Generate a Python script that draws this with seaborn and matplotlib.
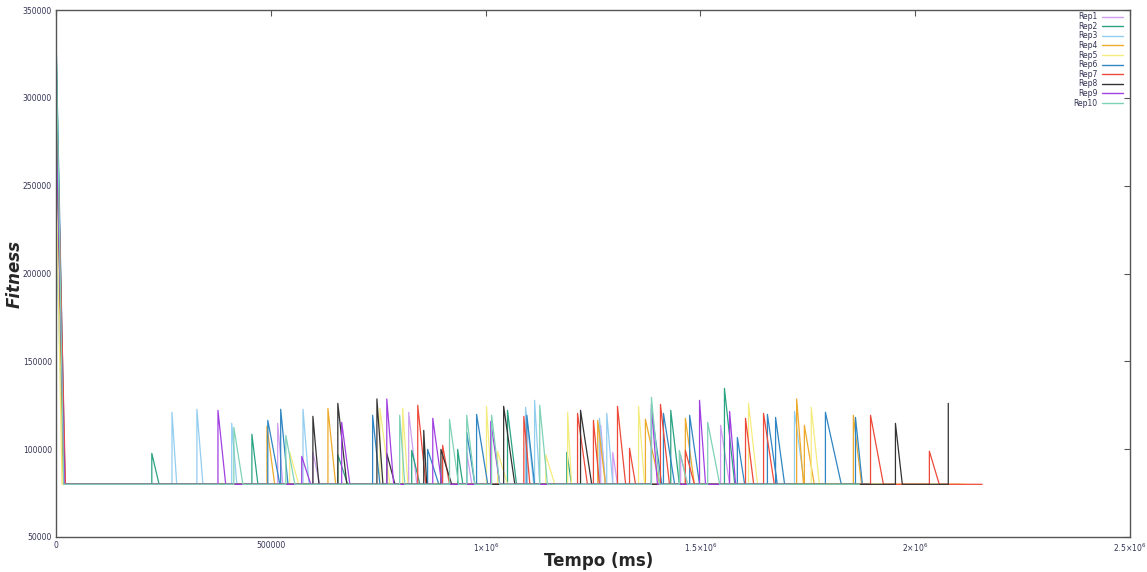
import matplotlib
matplotlib.use("Agg")
import matplotlib.pyplot as plt
from matplotlib.lines import Line2D
import seaborn as sns
import pandas as pd

# ---------------- data ----------------
BASE = 80000
series_names = ["Rep1", "Rep2", "Rep3", "Rep4", "Rep5", "Rep6", "Rep7", "Rep8", "Rep9", "Rep10"]
colors = ["#cf9ef0", "#2aa382", "#93cdf0", "#eeaa2a", "#f5ec80",
          "#2f86c2", "#ee4a3a", "#333333", "#a140e0", "#7fd2b6"]

# initial fitness at t=0 and time at which the baseline is reached
initial_fitness = [236000, 330000, 225000, 300000, 260000, 336000, 312000, 300000, 290000, 338000]
initial_drop_t = [19000, 20000, 18000, 17000, 14000, 21000, 22000, 19000, 20000, 18000]
final_t = [1661000, 1893000, 1866000, 2107000, 2119000, 1893000, 2156000, None, 1707000, 1870000]

rep1_start = [516000, 598000, 821000, 956000, 1268000, 1296000, 1454000, 1547000]
rep1_peak = [114700, 98200, 121000, 98200, 113600, 98200, 96800, 113600]
rep1_end = [528000, 614000, 840000, 968000, 1279000, 1307000, 1470000, 1568000]

rep2_start = [223000, 456000, 656000, 828000, 935000, 1051000, 1189000, 1431000, 1556000]
rep2_peak = [97600, 108500, 96800, 99300, 99900, 122100, 98200, 122100, 134600]
rep2_end = [240000, 470000, 679000, 847000, 947000, 1072000, 1200000, 1451000, 1580000]

rep3_start = [270000, 328000, 409000, 575000, 1093000, 1114000, 1265000, 1282000, 1719000]
rep3_peak = [121000, 122700, 114700, 122700, 123800, 127800, 117600, 120400, 121500]
rep3_end = [281000, 342000, 421000, 589000, 1112000, 1126000, 1279000, 1296000, 1742000]

rep4_start = [491000, 633000, 1261000, 1372000, 1465000, 1724000, 1742000, 1856000]
rep4_peak = [113000, 123200, 116400, 117000, 117600, 128600, 113600, 119300]
rep4_end = [509000, 651000, 1279000, 1405000, 1486000, 1740000, 1765000, 1875000]

rep5_start = [544000, 754000, 807000, 1002000, 1028000, 1140000, 1191000, 1356000, 1612000, 1758000]
rep5_peak = [98200, 123200, 123200, 124400, 98800, 96800, 121000, 124400, 126100, 123800]
rep5_end = [565000, 777000, 819000, 1014000, 1051000, 1161000, 1200000, 1370000, 1633000, 1777000]

rep6_start = [493000, 523000, 737000, 865000, 956000, 979000, 1096000, 1386000, 1414000,
              1475000, 1586000, 1656000, 1675000, 1791000, 1861000]
rep6_peak = [116400, 122700, 119300, 99900, 109600, 119800, 119300, 122700, 120400,
             119300, 106700, 119800, 118100, 121000, 118100]
rep6_end = [521000, 540000, 754000, 891000, 975000, 1005000, 1114000, 1410000, 1440000,
            1498000, 1603000, 1679000, 1696000, 1828000, 1877000]

rep7_start = [842000, 900000, 1089000, 1214000, 1251000, 1307000, 1335000, 1407000,
              1465000, 1605000, 1647000, 1896000, 2033000]
rep7_peak = [125000, 102200, 118700, 120400, 116400, 124400, 100500, 125500,
             99300, 117600, 120400, 119300, 98800]
rep7_end = [861000, 916000, 1103000, 1237000, 1265000, 1326000, 1349000, 1428000,
            1486000, 1624000, 1672000, 1926000, 2056000]

rep8_start = [598000, 656000, 747000, 770000, 856000, 896000, 1042000, 1221000, 1954000, 2077000]
rep8_peak = [118700, 126100, 128600, 97600, 110700, 99900, 124400, 122100, 114700, 126100]
rep8_end = [612000, 677000, 761000, 789000, 863000, 921000, 1068000, 1247000, 1970000, None]

rep9_start = [377000, 572000, 665000, 770000, 877000, 1012000, 1386000, 1498000, 1568000]
rep9_peak = [122100, 95900, 115300, 128600, 117600, 115800, 125500, 127800, 121500]
rep9_end = [395000, 593000, 684000, 786000, 898000, 1033000, 1400000, 1512000, 1582000]

rep10_start = [414000, 535000, 800000, 916000, 956000, 1014000, 1126000, 1386000, 1451000, 1517000]
rep10_peak = [112400, 107900, 119300, 117000, 119300, 119300, 125000, 129500, 99300, 115300]
rep10_end = [435000, 556000, 812000, 937000, 975000, 1033000, 1144000, 1405000, 1470000, 1545000]

spikes = [
    (rep1_start, rep1_peak, rep1_end), (rep2_start, rep2_peak, rep2_end),
    (rep3_start, rep3_peak, rep3_end), (rep4_start, rep4_peak, rep4_end),
    (rep5_start, rep5_peak, rep5_end), (rep6_start, rep6_peak, rep6_end),
    (rep7_start, rep7_peak, rep7_end), (rep8_start, rep8_peak, rep8_end),
    (rep9_start, rep9_peak, rep9_end), (rep10_start, rep10_peak, rep10_end),
]

x_ticks = [0, 500000, 1000000, 1500000, 2000000, 2500000]
x_tick_labels = ["0", "500000", r"$1{\times}10^{6}$", r"$1.5{\times}10^{6}$",
                 r"$2{\times}10^{6}$", r"$2.5{\times}10^{6}$"]
y_ticks = [50000, 100000, 150000, 200000, 250000, 300000, 350000]

# ---------------- build long table ----------------
rows = []
for i, name in enumerate(series_names):
    pts = [(0, initial_fitness[i]), (initial_drop_t[i], BASE)]
    st, pk, en = spikes[i]
    for s, p, e in zip(st, pk, en):
        pts.append((s, BASE))
        pts.append((s, p))
        if e is not None:
            pts.append((e, BASE))
    if final_t[i] is not None:
        pts.append((final_t[i], BASE))
    for k, (t, f) in enumerate(pts):
        rows.append({"rep": name, "order": k, "t": t, "f": f})
df = pd.DataFrame(rows)

# ---------------- plot ----------------
sns.set_theme(style="white")
plt.rcParams["font.family"] = ["DejaVu Sans"]

fig = plt.figure(figsize=(11.47, 5.72), dpi=100)
ax = fig.add_axes([56 / 1147, 1 - 537 / 572, (1130 - 56) / 1147, (537 - 10) / 572])

sns.lineplot(data=df, x="t", y="f", hue="rep", hue_order=series_names,
             palette=colors, sort=False, estimator=None, linewidth=0.9,
             legend=False, ax=ax)

ax.set_xlim(0, 2500000)
ax.set_ylim(50000, 350000)
ax.set_xticks(x_ticks)
ax.set_xticklabels(x_tick_labels)
ax.set_yticks(y_ticks)
ax.set_yticklabels([str(v) for v in y_ticks])
ax.tick_params(axis="both", direction="in", length=4, width=0.8, labelsize=5.5,
               labelcolor="#333355", color="#555555", top=True, right=True, pad=3)

for sp in ax.spines.values():
    sp.set_color("#555555")
    sp.set_linewidth(1.0)

ax.set_xlabel("Tempo (ms)", fontsize=12, fontweight="bold", labelpad=0)
ax.set_ylabel("Fitness", fontsize=12, fontweight="bold", style="italic")
ax.xaxis.set_label_coords(0.505, -0.028)
ax.yaxis.set_label_coords(-0.030, 0.50)

handles = [Line2D([0], [0], color=c, lw=1.0) for c in colors]
ax.legend(handles, series_names, loc="upper right", frameon=False, markerfirst=False,
          fontsize=5.5, handlelength=2.7, labelspacing=0.08, handletextpad=0.6,
          borderaxespad=0.3, bbox_to_anchor=(0.9985, 1.006))
for txt in ax.get_legend().get_texts():
    txt.set_color("#333355")

fig.savefig("out.png", dpi=100)
